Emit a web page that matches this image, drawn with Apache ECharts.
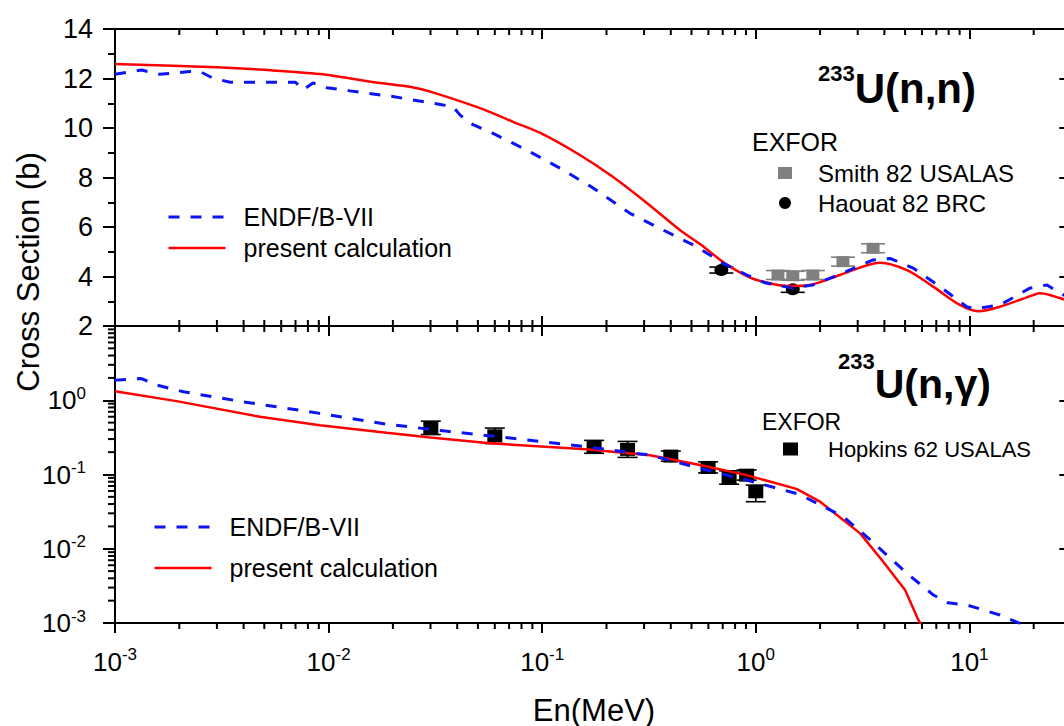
<!DOCTYPE html>
<html>
<head>
<meta charset="utf-8">
<title>233U neutron cross sections</title>
<script src="https://cdn.jsdelivr.net/npm/echarts@6/dist/echarts.min.js"></script>
<style>
  html, body { margin: 0; padding: 0; background: #ffffff; }
  #chart { width: 1064px; height: 726px; }
</style>
</head>
<body>
<div id="chart"></div>
<script>
// ---- Axis ranges ----------------------------------------------------------
const X_MIN = 0.001, X_MAX = 30;          // neutron energy, MeV (log)
const EL_MIN = 2, EL_MAX = 14;            // elastic cross section, b
const CAP_MIN = 0.001, CAP_MAX = 10;      // capture cross section, b (log)

// ---- 233U(n,n) elastic ------------------------------------------------------
const elasticEndfE  = [0.001, 0.00133, 0.00162, 0.00224, 0.0025, 0.00288, 0.00346, 0.0057, 0.0070, 0.0076,
                       0.00845, 0.0098, 0.0126, 0.020, 0.0344, 0.0382, 0.0412, 0.0459, 0.0589, 0.0846,
                       0.121, 0.173, 0.258, 0.368, 0.53, 0.70, 0.91, 1.1, 1.49, 1.85,
                       2.56, 3.54, 4.25, 5.45, 7.28, 9.72, 10.6, 13.9, 19.2, 23.1, 26.5, 30];
const elasticEndfXS = [12.17, 12.34, 12.17, 12.28, 12.28, 12.01, 11.85, 11.85, 11.85, 11.54,
                       11.82, 11.63, 11.50, 11.27, 10.93, 10.86, 10.53, 10.19, 9.78, 9.11,
                       8.38, 7.58, 6.55, 5.88, 5.20, 4.54, 4.06, 3.75, 3.53, 3.66,
                       4.14, 4.67, 4.73, 4.34, 3.59, 2.78, 2.69, 2.85, 3.53, 3.66, 3.33, 3.10];

const elasticCalcE  = [0.001, 0.003, 0.005, 0.0091, 0.0174, 0.024, 0.0299, 0.0512, 0.073, 0.098,
                       0.150, 0.214, 0.309, 0.441, 0.55, 0.70, 0.85, 1.01, 1.40, 1.79,
                       2.48, 3.81, 5.1, 6.77, 9.03, 11.0, 13.9, 19.9, 21.4, 26.5, 30];
const elasticCalcXS = [12.59, 12.45, 12.35, 12.18, 11.82, 11.67, 11.47, 10.80, 10.25, 9.80,
                       8.91, 8.03, 6.97, 5.88, 5.30, 4.60, 4.15, 3.86, 3.62, 3.66,
                       4.06, 4.56, 4.26, 3.59, 2.85, 2.60, 2.78, 3.25, 3.32, 3.13, 2.95];

const smithE   = [1.27, 1.49, 1.85, 2.56, 3.54];
const smithXS  = [4.06, 4.03, 4.06, 4.60, 5.14];
const smithErr = [0.18, 0.18, 0.18, 0.18, 0.18];

const haouatE   = [0.69, 1.49];
const haouatXS  = [4.26, 3.48];
const haouatErr = [0.12, 0.12];

// ---- 233U(n,gamma) capture ---------------------------------------------------
const captureEndfE  = [0.001, 0.00133, 0.00157, 0.00209, 0.00398, 0.0088, 0.0187, 0.0345, 0.058, 0.161,
                       0.32, 0.548, 0.97, 1.6, 2.57, 3.31, 5.1, 6.79, 7.94, 9.72, 13.9, 16.9, 20];
const captureEndfXS = [1.86, 1.96, 1.60, 1.30, 0.953, 0.676, 0.476, 0.387, 0.33, 0.236,
                       0.182, 0.121, 0.080, 0.054, 0.027, 0.0145, 0.00467, 0.00238, 0.00187, 0.00175, 0.00128, 0.00101, 0.00085];

const captureCalcE  = [0.001, 0.00194, 0.00477, 0.0091, 0.0187, 0.0299, 0.057, 0.161, 0.32, 0.548,
                       0.906, 1.55, 2.0, 3.08, 3.95, 5.0, 5.77, 6.2];
const captureCalcXS = [1.32, 0.973, 0.598, 0.462, 0.364, 0.315, 0.263, 0.218, 0.182, 0.134,
                       0.098, 0.064, 0.043, 0.0161, 0.00668, 0.00278, 0.0011, 0.0008];

const hopkinsE  = [0.0301, 0.060, 0.175, 0.251, 0.40, 0.598, 0.75, 0.906, 1.0];
const hopkinsXS = [0.425, 0.332, 0.236, 0.218, 0.177, 0.1245, 0.0914, 0.098, 0.0585];
const hopkinsLo = [0.345, 0.261, 0.193, 0.170, 0.151, 0.105, 0.074, 0.084, 0.043];
const hopkinsHi = [0.523, 0.422, 0.288, 0.279, 0.207, 0.148, 0.112, 0.115, 0.072];

// ---- Legend / title text -----------------------------------------------------
const NAME_ENDF = 'ENDF/B-VII';
const NAME_CALC = 'present calculation';
const NAME_SMITH = 'Smith 82 USALAS';
const NAME_HAOUAT = 'Haouat 82 BRC';
const NAME_HOPKINS = 'Hopkins 62 USALAS';

// ---- Helpers ----------------------------------------------------------------
const FONT = '"Liberation Sans", Arial, Helvetica, sans-serif';
const BLUE = '#0a14f5';
const RED = '#ff0000';
const zip = (a, b) => a.map((v, i) => [v, b[i]]);

// minor tick positions 2..9 x 10^n for the log axes
function logMinor(lo, hi) {
  const out = [];
  for (let n = Math.floor(Math.log10(lo)); n <= Math.ceil(Math.log10(hi)); n++) {
    for (let k = 2; k <= 9; k++) {
      const v = k * Math.pow(10, n);
      if (v > lo * 1.0001 && v < hi * 0.9999) out.push(v);
    }
  }
  return out;
}
const xMinor = logMinor(X_MIN, X_MAX);
const capMinor = logMinor(CAP_MIN, CAP_MAX);

function powLabel(v) {
  const e = Math.log10(v);
  const r = Math.round(e);
  if (Math.abs(e - r) > 1e-6) return '';
  return '{b|10}{s|' + r + '}';
}
const powRich = {
  b: { fontFamily: FONT, fontSize: 26, color: '#000' },
  s: { fontFamily: FONT, fontSize: 17, color: '#000', padding: [0, 0, 14, 0] }
};

function logXAxis(gridIndex, position, inside, showLabel) {
  return {
    type: 'log', logBase: 10, min: X_MIN, max: X_MAX, gridIndex, position,
    splitLine: { show: false },
    axisLine: { show: true, onZero: false, lineStyle: { color: '#000', width: 2 } },
    axisTick: { show: true, inside, length: 10, lineStyle: { color: '#000', width: 2 } },
    axisLabel: {
      show: showLabel, margin: 23,
      formatter: v => (v > X_MAX * 0.999 ? '' : powLabel(v)),
      rich: powRich
    }
  };
}

function elasticYAxis(position, inside, showLabel) {
  return {
    type: 'value', min: EL_MIN, max: EL_MAX, interval: 2, gridIndex: 0, position,
    splitLine: { show: false },
    axisLine: { show: true, onZero: false, lineStyle: { color: '#000', width: 2 } },
    axisTick: { show: true, inside, length: 12, lineStyle: { color: '#000', width: 2 } },
    minorTick: { show: true, splitNumber: 2, length: 7, lineStyle: { color: '#000', width: 2 } },
    axisLabel: { show: showLabel, margin: 22, fontFamily: FONT, fontSize: 27, color: '#000' }
  };
}

function captureYAxis(position, inside, showLabel) {
  return {
    type: 'log', logBase: 10, min: CAP_MIN, max: CAP_MAX, gridIndex: 1, position,
    splitLine: { show: false },
    axisLine: { show: true, onZero: false, lineStyle: { color: '#000', width: 2 } },
    axisTick: { show: true, inside, length: 12, lineStyle: { color: '#000', width: 2 } },
    axisLabel: {
      show: showLabel, margin: 29,
      formatter: v => (v > CAP_MAX * 0.999 ? '' : powLabel(v)),
      rich: powRich
    }
  };
}

// minor ticks on the bottom and top edges of a grid (dir: +1 down, -1 up)
function xMinorTickSeries(xAxisIndex, yAxisIndex, yRef, bottomDir, topDir) {
  return {
    type: 'custom', xAxisIndex, yAxisIndex, silent: true, clip: false, z: 6,
    data: xMinor.map(v => [v, yRef]),
    encode: { x: 0, y: 1 },
    renderItem(params, api) {
      const cs = params.coordSys;
      const x = api.coord([api.value(0), yRef])[0];
      const yb = cs.y + cs.height, yt = cs.y;
      const st = { stroke: '#000', lineWidth: 2 };
      return { type: 'group', children: [
        { type: 'line', shape: { x1: x, y1: yb, x2: x, y2: yb + bottomDir * 6 }, style: st },
        { type: 'line', shape: { x1: x, y1: yt, x2: x, y2: yt + topDir * 6 }, style: st }
      ] };
    }
  };
}

// minor ticks on the left (outside) and right (inside) edges of the capture grid
function yMinorTickSeries(xAxisIndex, yAxisIndex) {
  return {
    type: 'custom', xAxisIndex, yAxisIndex, silent: true, clip: false, z: 6,
    data: capMinor.map(v => [X_MIN, v]),
    encode: { x: 0, y: 1 },
    renderItem(params, api) {
      const cs = params.coordSys;
      const y = api.coord([X_MIN, api.value(1)])[1];
      const xl = cs.x, xr = cs.x + cs.width;
      const st = { stroke: '#000', lineWidth: 2 };
      return { type: 'group', children: [
        { type: 'line', shape: { x1: xl - 7, y1: y, x2: xl, y2: y }, style: st },
        { type: 'line', shape: { x1: xr - 7, y1: y, x2: xr, y2: y }, style: st }
      ] };
    }
  };
}

// vertical error bars with caps
function errorBarSeries(name, xAxisIndex, yAxisIndex, data, color, capHalf) {
  return {
    type: 'custom', name, xAxisIndex, yAxisIndex, silent: true, z: 1,
    data, encode: { x: 0, y: [1, 2] },
    renderItem(params, api) {
      const e = api.value(0);
      const pLo = api.coord([e, api.value(1)]);
      const pHi = api.coord([e, api.value(2)]);
      const x = pLo[0];
      const st = { stroke: color, lineWidth: 1.6 };
      return { type: 'group', children: [
        { type: 'line', shape: { x1: x, y1: pLo[1], x2: x, y2: pHi[1] }, style: st },
        { type: 'line', shape: { x1: x - capHalf, y1: pLo[1], x2: x + capHalf, y2: pLo[1] }, style: st },
        { type: 'line', shape: { x1: x - capHalf, y1: pHi[1], x2: x + capHalf, y2: pHi[1] }, style: st }
      ] };
    }
  };
}

const lineSeries = (name, xi, yi, data, color, dashed, z) => ({
  type: 'line', name, xAxisIndex: xi, yAxisIndex: yi, data,
  symbol: 'none', showSymbol: false, smooth: false, z, clip: true,
  lineStyle: { color, width: dashed ? 3 : 2.5, type: dashed ? [11, 11] : 'solid' },
  itemStyle: { color }
});

const scatterSeries = (name, xi, yi, data, symbol, size, color) => ({
  type: 'scatter', name, xAxisIndex: xi, yAxisIndex: yi, z: 1, data,
  symbol, symbolSize: size, itemStyle: { color, opacity: 1 },
  emphasis: { disabled: true }
});

// line-only legend entries (no symbol in the middle of the sample)
const lineLegendItem = (name, width) => ({ name, lineStyle: { width }, itemStyle: { opacity: 0 } });

// ---- Chart -------------------------------------------------------------------
const chart = echarts.init(document.getElementById('chart'), null, { renderer: 'svg' });

const GRID_LEFT = 115;
const GRID_WIDTH = 956.3;

const option = {
  animation: false,
  backgroundColor: '#ffffff',
  textStyle: { fontFamily: FONT },
  grid: [
    { left: GRID_LEFT, top: 29, width: GRID_WIDTH, height: 297, containLabel: false, outerBoundsMode: 'none' },
    { left: GRID_LEFT, top: 326, width: GRID_WIDTH, height: 297, containLabel: false, outerBoundsMode: 'none' }
  ],
  xAxis: [
    logXAxis(0, 'bottom', true, false),
    logXAxis(0, 'top', true, false),
    logXAxis(1, 'bottom', false, true),
    logXAxis(1, 'top', true, false)
  ],
  yAxis: [
    elasticYAxis('left', false, true),
    elasticYAxis('right', true, false),
    captureYAxis('left', false, true),
    captureYAxis('right', true, false)
  ],
  title: [
    {
      left: 818, top: 62, padding: 0,
      text: '{s|233}{m|U(n,n)}',
      textStyle: { rich: {
        s: { fontFamily: FONT, fontSize: 22, fontWeight: 'bold', color: '#000', padding: [0, 0, 30, 0] },
        m: { fontFamily: FONT, fontSize: 42, fontWeight: 'bold', color: '#000' }
      } }
    },
    {
      left: 838, top: 350, padding: 0,
      text: '{s|233}{m|U(n,\u03B3)}',
      textStyle: { rich: {
        s: { fontFamily: FONT, fontSize: 22, fontWeight: 'bold', color: '#000', padding: [0, 0, 46, 0] },
        m: { fontFamily: FONT, fontSize: 41, fontWeight: 'bold', color: '#000' }
      } }
    }
  ],
  legend: [
    {
      orient: 'vertical', left: 167, top: 203, padding: 0, itemGap: 3,
      itemWidth: 57, itemHeight: 14, selectedMode: false,
      data: [ lineLegendItem(NAME_ENDF, 3), lineLegendItem(NAME_CALC, 2.5) ],
      textStyle: { fontFamily: FONT, fontSize: 25, color: '#000', lineHeight: 28, padding: [0, 0, 0, 13] }
    },
    {
      orient: 'vertical', left: 153, top: 513, padding: 0, itemGap: 13,
      itemWidth: 57, itemHeight: 14, selectedMode: false,
      data: [ lineLegendItem(NAME_ENDF, 3), lineLegendItem(NAME_CALC, 2.5) ],
      textStyle: { fontFamily: FONT, fontSize: 25, color: '#000', lineHeight: 28, padding: [0, 0, 0, 13] }
    },
    {
      orient: 'vertical', left: 778, top: 160, padding: 0, itemGap: 4,
      itemWidth: 14, itemHeight: 12, selectedMode: false,
      data: [
        { name: NAME_SMITH, icon: 'rect', itemStyle: { opacity: 1 } },
        { name: NAME_HAOUAT, icon: 'circle', itemStyle: { opacity: 1 } }
      ],
      textStyle: { fontFamily: FONT, fontSize: 24, color: '#000', lineHeight: 26, padding: [0, 0, 0, 21] }
    },
    {
      orient: 'vertical', left: 783, top: 436, padding: 0, itemGap: 4,
      itemWidth: 15, itemHeight: 13, selectedMode: false,
      data: [ { name: NAME_HOPKINS, icon: 'rect', itemStyle: { opacity: 1 } } ],
      textStyle: { fontFamily: FONT, fontSize: 22, color: '#000', lineHeight: 26, padding: [0, 0, 0, 25] }
    }
  ],
  graphic: [
    {
      type: 'text', x: 28, y: 272, rotation: Math.PI / 2, silent: true,
      style: { text: 'Cross Section (b)', font: '31px ' + FONT, fill: '#000', align: 'center', verticalAlign: 'middle' }
    },
    {
      type: 'text', x: 594, y: 710, silent: true,
      style: { text: 'En(MeV)', font: '31px ' + FONT, fill: '#000', align: 'center', verticalAlign: 'middle' }
    },
    {
      type: 'text', x: 752, y: 142, silent: true,
      style: { text: 'EXFOR', font: '25px ' + FONT, fill: '#000', align: 'left', verticalAlign: 'middle' }
    },
    {
      type: 'text', x: 762, y: 422, silent: true,
      style: { text: 'EXFOR', font: '23px ' + FONT, fill: '#000', align: 'left', verticalAlign: 'middle' }
    }
  ],
  series: [
    // elastic panel
    errorBarSeries('smith-err', 0, 0, smithE.map((e, i) => [e, smithXS[i] - smithErr[i], smithXS[i] + smithErr[i]]), '#808080', 12),
    scatterSeries(NAME_SMITH, 0, 0, zip(smithE, smithXS), 'rect', [13, 11], '#808080'),
    errorBarSeries('haouat-err', 0, 0, haouatE.map((e, i) => [e, haouatXS[i] - haouatErr[i], haouatXS[i] + haouatErr[i]]), '#000', 12),
    scatterSeries(NAME_HAOUAT, 0, 0, zip(haouatE, haouatXS), 'circle', [14, 12], '#000'),
    Object.assign(lineSeries(NAME_CALC, 0, 0, zip(elasticCalcE, elasticCalcXS), RED, false, 3), { smooth: 0.3 }),
    lineSeries(NAME_ENDF, 0, 0, zip(elasticEndfE, elasticEndfXS), BLUE, true, 4),

    // capture panel
    errorBarSeries('hopkins-err', 2, 2, hopkinsE.map((e, i) => [e, hopkinsLo[i], hopkinsHi[i]]), '#000', 10),
    scatterSeries(NAME_HOPKINS, 2, 2, zip(hopkinsE, hopkinsXS), 'rect', [15, 13], '#000'),
    lineSeries(NAME_CALC, 2, 2, zip(captureCalcE, captureCalcXS), RED, false, 3),
    lineSeries(NAME_ENDF, 2, 2, zip(captureEndfE, captureEndfXS), BLUE, true, 4),

    // minor ticks
    xMinorTickSeries(0, 0, EL_MIN, -1, 1),
    xMinorTickSeries(2, 2, CAP_MIN, 1, 1),
    yMinorTickSeries(2, 2)
  ]
};

chart.setOption(option);
</script>
</body>
</html>
